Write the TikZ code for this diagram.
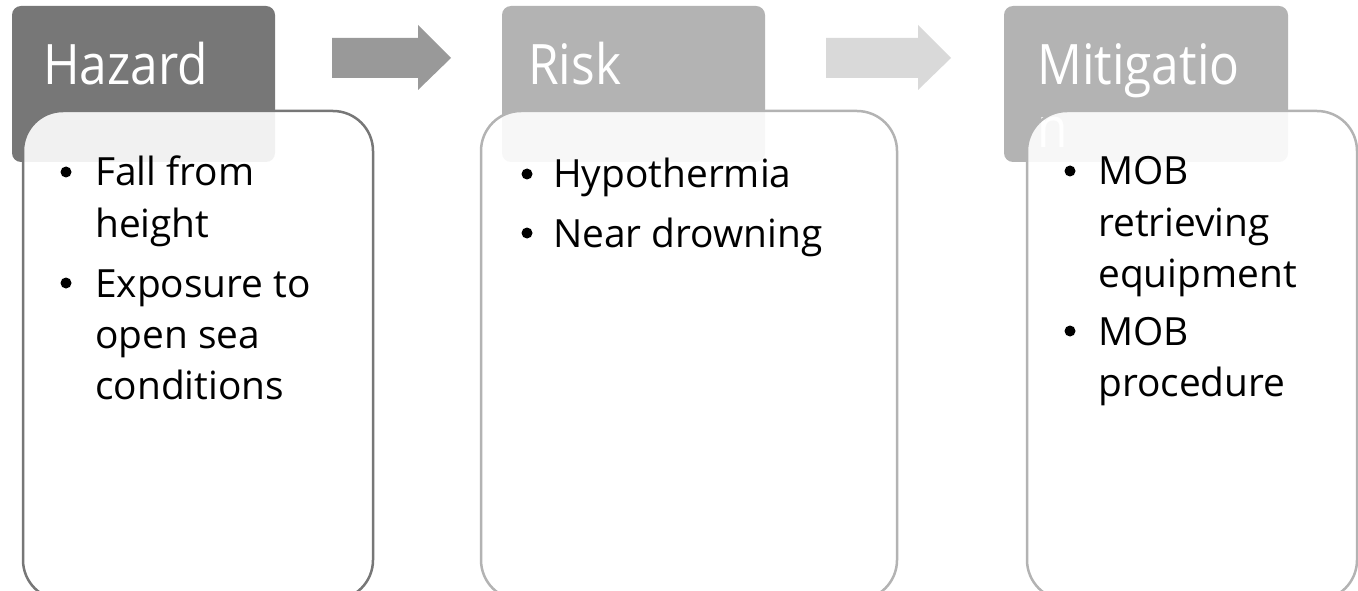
\documentclass[tikz,border=0pt]{standalone}
\usepackage{fontspec}
\setmainfont{Open Sans}
\newfontfamily\headfont[FakeStretch=0.89]{Open Sans}
\begin{document}
\begin{tikzpicture}[x=1bp,y=-1bp,
  header/.style={rounded corners=9bp, draw=none},
  body/.style={rounded corners=40bp, line width=2.5bp, fill=white, fill opacity=0.9},
  htext/.style={anchor=base west, inner sep=0pt, text=white,
    font=\headfont\fontsize{56}{63}\selectfont},
  item/.style={anchor=base west, inner sep=0pt, text=black,
    font=\fontsize{39}{51}\selectfont},
  dot/.style={circle, fill=black, inner sep=0pt, minimum size=11bp},
  blockarrow/.style={draw=none}]
\useasboundingbox (0,0) rectangle (1358,591);
\clip (0,0) rectangle (1358,591);

% step headers
\fill[header, fill={rgb,255:red,119;green,119;blue,119}] (12,6) rectangle (275,162);
\fill[header, fill={rgb,255:red,179;green,179;blue,179}] (502,6) rectangle (765,162);
\fill[header, fill={rgb,255:red,179;green,179;blue,179}] (1004,6) rectangle (1288,162);
\node[htext] (hHazard) at (43,85) {Hazard};
\node[htext] (hRisk) at (528,85) {Risk};
\node[htext] (hMitA) at (1037,85) {Mitigatio};
\node[htext] (hMitB) at (1037,148) {n};

% block arrows between the steps
\fill[blockarrow, fill={rgb,255:red,153;green,153;blue,153}]
  (332,38) -- (418,38) -- (418,25) -- (451,58) -- (418,90) -- (418,78) -- (332,78) -- cycle;
\fill[blockarrow, fill={rgb,255:red,217;green,217;blue,217}]
  (826,38) -- (918,38) -- (918,25) -- (951,58) -- (918,90) -- (918,78) -- (826,78) -- cycle;

% bullet boxes
\draw[body, draw={rgb,255:red,119;green,119;blue,119}] (23,111) rectangle (373,600);
\draw[body, draw={rgb,255:red,179;green,179;blue,179}] (481,111) rectangle (897,600);
\draw[body, draw={rgb,255:red,179;green,179;blue,179}] (1027,111) rectangle (1357,600);

% Hazard items
\node[dot] (b11) at (66,172) {};
\node[item] (t11a) at (95,186) {Fall from};
\node[item] (t11b) at (95,237) {height};
\node[dot] (b12) at (66,283) {};
\node[item] (t12a) at (95,297) {Exposure to};
\node[item] (t12b) at (95,348) {open sea};
\node[item] (t12c) at (95,399) {conditions};

% Risk items
\node[dot] (b21) at (527,174) {};
\node[item] (t21) at (553,188) {Hypothermia};
\node[dot] (b22) at (527,233) {};
\node[item] (t22) at (553,247) {Near drowning};

% Mitigation items
\node[dot] (b31) at (1070,171) {};
\node[item] (t31a) at (1098,185) {MOB};
\node[item] (t31b) at (1098,236) {retrieving};
\node[item] (t31c) at (1098,287) {equipment};
\node[dot] (b32) at (1070,331) {};
\node[item] (t32a) at (1098,345) {MOB};
\node[item] (t32b) at (1098,396) {procedure};
\end{tikzpicture}
\end{document}
